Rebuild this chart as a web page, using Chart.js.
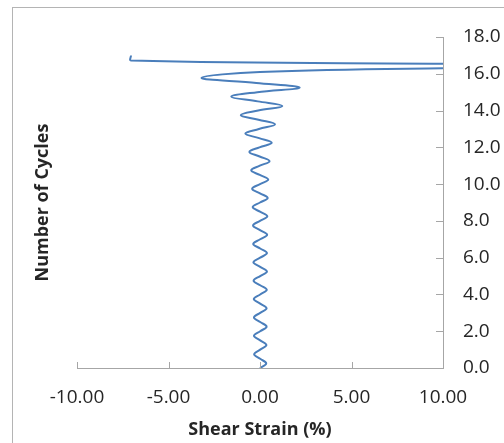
<!DOCTYPE html>
<html>
<head>
<meta charset="utf-8">
<script src="https://cdn.jsdelivr.net/npm/chart.js@4/dist/chart.umd.min.js"></script>
<style>
  body { margin: 0; background: #fff; }
  #wrap { position: relative; width: 504px; height: 443px; overflow: hidden; }
  #frame { position: absolute; left: 12px; top: 7px; width: 600px; height: 600px; border: 1px solid #b4b4b4; }
  #chart { position: absolute; left: 0; top: 0; }
</style>
</head>
<body>
<div id="wrap">
  <div id="frame"></div>
  <canvas id="chart" width="504" height="443"></canvas>
</div>
<script>
// Shear strain (%) read at quarter cycles, then the final run-away
const shearStrain = [
  0.00, 0.34, 0.01, -0.32, 0.01, 0.35, 0.01, -0.33,
  0.01, 0.36, 0.01, -0.33, 0.01, 0.36, 0.01, -0.34,
  0.01, 0.37, 0.01, -0.35, 0.01, 0.38, 0.01, -0.36,
  0.01, 0.38, 0.01, -0.37, 0.01, 0.39, 0.00, -0.38,
  0.00, 0.40, 0.00, -0.40, 0.00, 0.42, 0.00, -0.43,
  0.00, 0.45, -0.01, -0.48, -0.01, 0.52, -0.02, -0.58,
  -0.03, 0.64, -0.05, -0.80, -0.06, 0.82, -0.08, -1.05,
  -0.10, 1.22, -0.12, -1.57, -0.15, 2.17, -0.20, -3.19,
  0.00, 10.0, 30.0, 10.0, -7.05, -7.05
];
const numberOfCycles = [
  0.00, 0.25, 0.50, 0.75, 1.00, 1.25, 1.50, 1.75,
  2.00, 2.25, 2.50, 2.75, 3.00, 3.25, 3.50, 3.75,
  4.00, 4.25, 4.50, 4.75, 5.00, 5.25, 5.50, 5.75,
  6.00, 6.25, 6.50, 6.75, 7.00, 7.25, 7.50, 7.75,
  8.00, 8.25, 8.50, 8.75, 9.00, 9.25, 9.50, 9.75,
  10.00, 10.25, 10.50, 10.75, 11.00, 11.25, 11.50, 11.75,
  12.00, 12.25, 12.50, 12.75, 13.00, 13.25, 13.50, 13.75,
  14.00, 14.25, 14.50, 14.75, 15.00, 15.25, 15.50, 15.78,
  16.10, 16.30, 16.45, 16.55, 16.72, 17.00
];
const xTickValues = [-10, -5, 0, 5, 10];
const yTickValues = [0, 2, 4, 6, 8, 10, 12, 14, 16, 18];

const axisGrey = '#a6a6a6';
const textColor = '#262626';
const fontFamily = "'Open Sans', 'Liberation Sans', sans-serif";

// Excel style tick marks that point into the plot area
const innerTicks = {
  id: 'innerTicks',
  afterDraw(chart) {
    const { ctx, scales: { x, y } } = chart;
    ctx.save();
    ctx.strokeStyle = axisGrey;
    ctx.lineWidth = 1;
    ctx.beginPath();
    xTickValues.forEach(function(v) {
      const px = Math.round(x.getPixelForValue(v)) + 0.5;
      ctx.moveTo(px, y.bottom);
      ctx.lineTo(px, y.bottom - 6);
    });
    yTickValues.forEach(function(v) {
      const py = Math.round(y.getPixelForValue(v)) + 0.5;
      ctx.moveTo(x.right, py);
      ctx.lineTo(x.right - 7, py);
    });
    ctx.stroke();
    ctx.restore();
  }
};

const points = shearStrain.map(function(s, i) {
  return { x: s, y: numberOfCycles[i] };
});

new Chart(document.getElementById('chart'), {
  type: 'scatter',
  data: {
    datasets: [{
      data: points,
      showLine: true,
      borderColor: '#4a7ebb',
      borderWidth: 2,
      pointRadius: 0,
      tension: 0.4,
      yAxisID: 'y'
    }]
  },
  options: {
    responsive: false,
    animation: false,
    devicePixelRatio: 1,
    layout: { padding: { top: 37, left: 0, right: 0, bottom: 0 } },
    plugins: { legend: { display: false }, tooltip: { enabled: false } },
    scales: {
      x: {
        type: 'linear',
        position: 'bottom',
        min: -10,
        max: 10,
        afterBuildTicks: function(scale) {
          scale.ticks = xTickValues.map(function(v) { return { value: v }; });
        },
        ticks: {
          color: textColor,
          padding: 18,
          maxRotation: 0,
          font: { family: fontFamily, size: 19 },
          callback: function(v) { return Number(v).toFixed(2); }
        },
        grid: { drawOnChartArea: false, drawTicks: false },
        border: { display: true, color: axisGrey, width: 1 },
        title: {
          display: true,
          text: 'Shear Strain (%)',
          color: textColor,
          font: { family: fontFamily, size: 18, weight: 'bold' },
          padding: { top: 0, bottom: 2 }
        },
        afterFit: function(scale) { scale.height = 75; }
      },
      y: {
        type: 'linear',
        position: 'right',
        min: 0,
        max: 18,
        afterBuildTicks: function(scale) {
          scale.ticks = yTickValues.map(function(v) { return { value: v }; });
        },
        ticks: {
          color: textColor,
          padding: 20,
          font: { family: fontFamily, size: 19 },
          callback: function(v) { return Number(v).toFixed(1); }
        },
        grid: { drawOnChartArea: false, drawTicks: false },
        border: { display: true, color: axisGrey, width: 1 },
        afterFit: function(scale) { scale.width = 61; }
      },
      yTitle: {
        type: 'linear',
        position: 'left',
        min: 0,
        max: 18,
        ticks: { display: false },
        grid: { display: false },
        border: { display: false },
        title: {
          display: true,
          text: 'Number of Cycles',
          color: textColor,
          font: { family: fontFamily, size: 18, weight: 'bold' },
          padding: { top: 32, bottom: 0 }
        },
        afterFit: function(scale) { scale.width = 77; }
      }
    }
  },
  plugins: [innerTicks]
});
</script>
</body>
</html>
